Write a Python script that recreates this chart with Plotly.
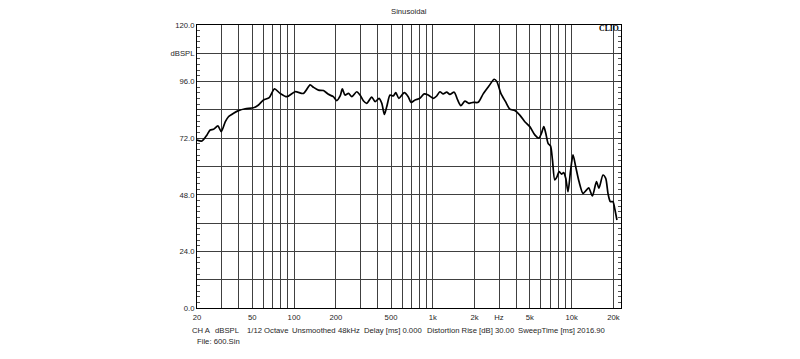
import numpy as np
import plotly.graph_objects as go

# ---- data ----
freq_hz = [20, 21.7, 23.6, 24.9, 26.3, 28.3, 29.9, 32.0, 33.7, 36.7,
           39.8, 44.5, 51.1, 55.5, 60.3, 66.3, 72.3, 79.4, 88.8, 101.9,
           117, 130.6, 138, 150, 163, 177, 192, 203, 215, 223,
           233, 247, 261, 283, 299, 316, 334, 363, 384, 410,
           429, 448, 466, 492, 519, 541, 570, 623, 665, 697,
           745, 807, 867, 927, 1007, 1067, 1125, 1189, 1259, 1328,
           1426, 1510, 1593, 1703, 1820, 1955, 2124, 2307, 2536, 2770,
           2896, 3093, 3343, 3590, 3900, 4236, 4602, 5000, 5433, 5808,
           6071, 6306, 6517, 6772, 7049, 7281, 7563, 7857, 8124, 8452,
           8775, 9078, 9426, 9813, 10237, 10709, 11312, 12082, 12790, 13282,
           14130, 15106, 15745, 16835, 17620, 18290, 19025, 19860, 20420, 21230]

spl_db = [71.2, 70.8, 73.4, 75.5, 75.8, 77.2, 74.8, 79.0, 81.1, 82.6,
          83.7, 84.5, 84.9, 86.1, 88.2, 89.2, 92.9, 91.0, 89.6, 91.7,
          91.0, 94.6, 93.6, 92.4, 92.2, 90.6, 89.6, 87.9, 89.9, 92.9,
          90.3, 91.0, 89.6, 91.7, 90.3, 87.9, 86.8, 89.4, 87.5, 88.9,
          86.8, 82.1, 85.4, 90.3, 89.9, 91.3, 88.9, 91.3, 89.6, 87.2,
          88.2, 88.9, 90.8, 90.3, 88.9, 89.9, 91.7, 90.8, 91.5, 90.6,
          91.5, 88.2, 85.8, 87.7, 86.8, 87.2, 87.2, 90.8, 94.1, 97.0,
          96.0, 91.0, 87.5, 84.3, 83.7, 81.8, 79.0, 76.9, 73.4, 72.0,
          74.1, 76.9, 74.1, 69.8, 68.7, 62.8, 54.3, 55.7, 57.8, 56.8,
          57.4, 55.0, 49.3, 57.8, 64.9, 59.9, 53.6, 48.6, 50.0, 51.0,
          47.5, 53.6, 50.8, 56.4, 55.0, 48.6, 45.1, 45.1, 42.3, 37.3]

x_grid = [20, 30, 40, 50, 60, 70, 80, 90,
          100, 200, 300, 400, 500, 600, 700, 800, 900,
          1000, 2000, 3000, 4000, 5000, 6000, 7000, 8000, 9000,
          10000, 20000]
x_labels = {20: "20", 50: "50", 100: "100", 200: "200", 500: "500",
            1000: "1k", 2000: "2k", 3000: "Hz", 5000: "5k", 10000: "10k", 20000: "20k"}
x_ticktext = [x_labels.get(v, "") for v in x_grid]

y_grid = [0, 12, 24, 36, 48, 60, 72, 84, 96, 108, 120]
y_ticktext = ["0.0", "", "24.0", "", "48.0", "", "72.0", "", "96.0", "dBSPL", "120.0"]

title_text = "Sinusoidal"
footer_items = [("CH A", 191.7), ("dBSPL", 215), ("1/12 Octave", 246.7), ("Unsmoothed", 291.7),
                ("48kHz", 337.7), ("Delay [ms] 0.000", 364.3),
                ("Distortion Rise [dB] 30.00", 426.7), ("SweepTime [ms] 2016.90", 518.3)]
file_text = "File: 600.Sin"

# ---- layout geometry (window pixel coordinates; page body has an 8px offset) ----
W, H = 800, 359
OFF = 8
L, R, T, B = 196.7, 621.5, 25, 308
def px2paper_x(px):
    return (px - L) / (R - L)
def py2paper_y(py):
    return (B - py) / (B - T)

FONT = "Liberation Sans, Arial, sans-serif"
TXT = "#262626"
FS = 7.7

fig = go.Figure()
fig.add_trace(go.Scatter(x=freq_hz, y=spl_db, mode="lines",
                         line=dict(color="black", width=1.7, shape="spline", smoothing=0.7),
                         hoverinfo="skip", showlegend=False))

fig.update_layout(
    width=W - OFF, height=H - OFF,
    margin=dict(l=L - OFF, r=W - R, t=T - OFF, b=H - B, pad=0, autoexpand=False),
    paper_bgcolor="white", plot_bgcolor="white",
    font=dict(family=FONT, size=FS, color=TXT),
    showlegend=False,
)
fig.update_xaxes(type="log", range=[np.log10(20), np.log10(22700)],
                 tickmode="array", tickvals=x_grid, ticktext=x_ticktext,
                 showgrid=True, gridcolor="#404040", gridwidth=1,
                 showline=True, linecolor="black", linewidth=1, mirror=True,
                 ticks="", ticklabelstandoff=2, zeroline=False,
                 tickfont=dict(size=FS, color=TXT, family=FONT))
fig.update_yaxes(range=[0, 120], tickmode="array", tickvals=y_grid, ticktext=y_ticktext,
                 showgrid=True, gridcolor="#404040", gridwidth=1,
                 showline=True, linecolor="black", linewidth=1, mirror="ticks",
                 ticks="inside", ticklen=3, tickcolor="#333333",
                 minor=dict(ticks="inside", ticklen=3, dtick=2.4, tick0=0, tickcolor="#555555", showgrid=False),
                 zeroline=False, tickfont=dict(size=FS, color=TXT, family=FONT))

ann = []
ann.append(dict(text=title_text, x=px2paper_x(409), y=py2paper_y(12), xref="paper", yref="paper",
                xanchor="center", yanchor="middle", showarrow=False,
                font=dict(size=FS, color=TXT, family=FONT)))
ann.append(dict(text="<b>CLIO</b>", x=px2paper_x(620.5), y=py2paper_y(28.3), xref="paper", yref="paper",
                xanchor="right", yanchor="middle", showarrow=False, borderpad=0,
                font=dict(size=7.8, color="black", family="Liberation Serif, Times New Roman, serif")))
for text, px in footer_items:
    ann.append(dict(text=text, x=px2paper_x(px - 1), y=py2paper_y(330), xref="paper", yref="paper",
                    xanchor="left", yanchor="middle", showarrow=False, borderpad=0,
                    font=dict(size=FS, color=TXT, family=FONT)))
ann.append(dict(text=file_text, x=px2paper_x(196.7 - 1), y=py2paper_y(341.7), xref="paper", yref="paper",
                xanchor="left", yanchor="middle", showarrow=False, borderpad=0,
                font=dict(size=FS, color=TXT, family=FONT)))
fig.update_layout(annotations=ann)

fig.write_html("out.html")
